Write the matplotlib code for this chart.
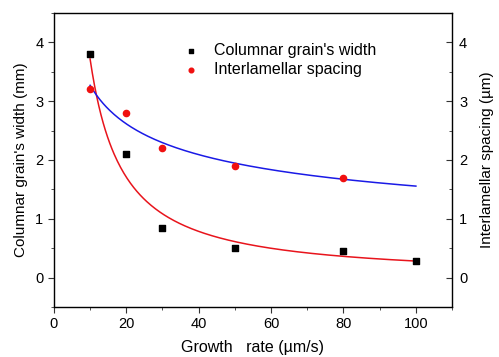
import matplotlib.pyplot as plt
import numpy as np
from matplotlib.ticker import MultipleLocator

plt.rcParams['font.family'] = ['Liberation Sans', 'DejaVu Sans']

# Data
rate_grain = np.array([10, 20, 30, 50, 80, 100])
grain_width = np.array([3.8, 2.1, 0.85, 0.5, 0.45, 0.28])

rate_spacing = np.array([10, 20, 30, 50, 80])
spacing = np.array([3.2, 2.8, 2.2, 1.9, 1.7])

x_ticks = [0, 20, 40, 60, 80, 100]
y_ticks = [0, 1, 2, 3, 4]


def power_fit(x, y):
    """Fit y = a * x^b in log-log space."""
    b, log_a = np.polyfit(np.log(x), np.log(y), 1)
    return np.exp(log_a), b


x_fit = np.linspace(10, 100, 300)
a1, b1 = power_fit(rate_grain, grain_width)
a2, b2 = power_fit(rate_spacing, spacing)

fig = plt.figure(figsize=(4.99, 3.57), dpi=100)
ax = fig.add_axes([0.108, 0.140, 0.798, 0.824])

ax.plot(x_fit, a1 * x_fit ** b1, color="#e8141c", linewidth=1.1)
ax.plot(x_fit, a2 * x_fit ** b2, color="#1a1ae6", linewidth=1.1)
ax.scatter(rate_grain, grain_width, marker="s", s=20, color="black",
           label="Columnar grain's width", zorder=3)
ax.scatter(rate_spacing, spacing, marker="o", s=20, color="#f01010",
           label="Interlamellar spacing", zorder=3)

ax.set_xlim(0, 110)
ax.set_ylim(-0.5, 4.5)
ax.set_xticks(x_ticks)
ax.set_yticks(y_ticks)
ax.xaxis.set_minor_locator(MultipleLocator(10))
ax.yaxis.set_minor_locator(MultipleLocator(0.5))
ax.tick_params(which="both", direction="out", labelsize=10.5, color="#333333")
ax.tick_params(which="major", length=4)
ax.tick_params(which="minor", length=2.5)
ax.set_xlabel("Growth   rate (\u00b5m/s)", fontsize=11.5, labelpad=6)
ax.set_ylabel("Columnar grain's width (mm)", fontsize=11, labelpad=5)
for s in ax.spines.values():
    s.set_color("#333333")
    s.set_linewidth(1.0)

ax2 = ax.twinx()
ax2.set_ylim(-0.5, 4.5)
ax2.set_yticks(y_ticks)
ax2.yaxis.set_minor_locator(MultipleLocator(0.5))
ax2.tick_params(which="both", direction="in", labelsize=10.5, color="#333333")
ax2.tick_params(which="major", length=4, pad=5)
ax2.tick_params(which="minor", length=2.5)
ax2.set_ylabel("Interlamellar spacing (\u00b5m)", fontsize=11, labelpad=9)

ax.legend(loc="upper left", bbox_to_anchor=(0.267, 0.945), frameon=False,
          fontsize=11.5, markerscale=0.75, handletextpad=0.45,
          labelspacing=0.25)

plt.savefig("out.png", dpi=100)
